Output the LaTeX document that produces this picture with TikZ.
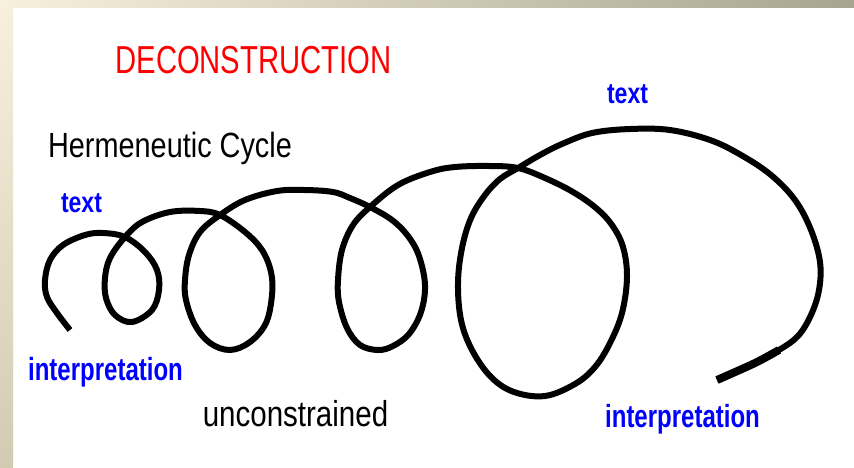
\documentclass[tikz,border=0pt]{standalone}
\usepackage{fontspec}
\setmainfont{Liberation Sans}
\usepackage{graphicx}
\newcommand{\squeeze}[2]{\scalebox{#1}[1]{#2}}
\definecolor{paleband}{HTML}{F7F1DC}
\definecolor{greyband}{HTML}{A8A48F}
\definecolor{sandband}{HTML}{D3CAB2}

\begin{document}
\begin{tikzpicture}[x=1pt,y=-1pt,
  word/.style={anchor=base,inner sep=0pt},
  bluetag/.style={word,text=blue,font=\bfseries\fontsize{#1}{#1}\selectfont}]
  \useasboundingbox (0,0) rectangle (854,467);
  % slide frame
  \fill[white] (0,0) rectangle (854,467);
  \shade[left color=paleband,right color=greyband] (0,0) rectangle (854,7);
  \shade[top color=paleband,bottom color=sandband] (0,0) rectangle (13,467);
  % labels
  \node[word,text=red,font=\fontsize{39}{39}\selectfont] (title) at (253.5,73) {\squeeze{0.75}{DECONSTRUCTION}};
  \node[word,font=\fontsize{35}{35}\selectfont] (cycle) at (170,157) {\squeeze{0.825}{Hermeneutic Cycle}};
  \node[bluetag=29] (text1) at (81.5,212) {\squeeze{0.795}{text}};
  \node[bluetag=32] (interp1) at (105.5,380) {\squeeze{0.75}{interpretation}};
  \node[word,font=\fontsize{36}{36}\selectfont] (free) at (295.5,426) {\squeeze{0.82}{unconstrained}};
  \node[bluetag=29] (text2) at (627.5,103) {\squeeze{0.795}{text}};
  \node[bluetag=32] (interp2) at (682.5,427) {\squeeze{0.75}{interpretation}};
  % the spiral
  \draw[line width=6pt,line join=round] plot[smooth,tension=0.6] coordinates {
    (70,330) (57,313) (47,297) (45,280) (50,260) (63,245) (85,235) (103,233)
    (125,237) (145,252) (157,270) (159,290) (152,310) (132,322) (115,315) (106,298)
    (105,278) (110,258) (125,237) (142,222) (170,212) (200,211) (220,215) (245,232)
    (262,250) (271,272) (272,295) (266,323) (250,342) (230,350) (210,343) (195,325)
    (186,300) (185,280) (189,255) (200,232) (220,215) (245,200) (277,191) (305,190)
    (333,192) (350,198) (370,207) (392,220) (408,236) (419,256) (425,285) (421,312)
    (409,334) (393,346) (378,350) (360,345) (347,328) (339,302) (338,280) (342,250)
    (353,225) (370,207) (398,185) (430,172) (455,167) (490,166) (518,168) (545,178)
    (573,192) (596,208) (612,225) (623,247) (627,277) (622,313) (610,343) (595,367)
    (575,384) (545,396) (514,392) (491,377) (472,350) (461,320) (458,283) (462,248)
    (471,218) (485,195) (500,179) (518,168) (540,155) (562,144) (592,133) (630,129)
    (670,130) (710,140) (741,155) (771,175) (795,200) (811,230) (820,262) (819,290)
    (811,315) (798,336) (779,350) (755,363) (717,380)};
  \draw[line width=8pt] plot[smooth] coordinates {(779,350) (755,363) (717,380)};
\end{tikzpicture}
\end{document}
